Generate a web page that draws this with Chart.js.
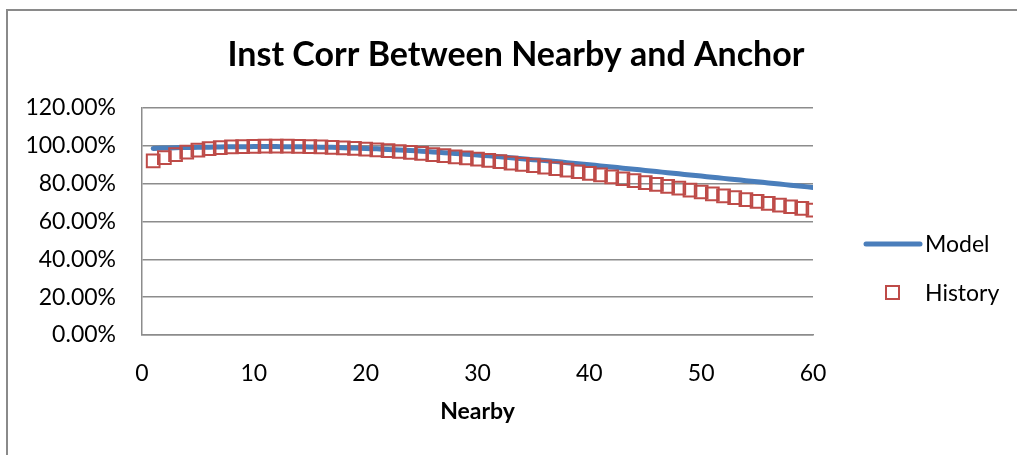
<!DOCTYPE html>
<html>
<head>
<meta charset="utf-8">
<script src="https://cdn.jsdelivr.net/npm/chart.js@4/dist/chart.umd.min.js"></script>
<style>
  html, body { margin: 0; padding: 0; background: #fff; overflow: hidden; }
  #wrap { position: relative; width: 1017px; height: 455px; }
  #frame { position: absolute; left: 6px; top: 9px; width: 1200px; height: 600px; border: 2px solid #8a8a8a; box-sizing: border-box; }
  canvas { position: absolute; left: 0; top: 0; }
</style>
</head>
<body>
<div id="wrap">
  <div id="frame"></div>
  <canvas id="corrChart" width="1017" height="455"></canvas>
</div>
<script>
// x values: nearby 1..60
const nearby = [1,2,3,4,5,6,7,8,9,10,11,12,13,14,15,16,17,18,19,20,
  21,22,23,24,25,26,27,28,29,30,31,32,33,34,35,36,37,38,39,40,
  41,42,43,44,45,46,47,48,49,50,51,52,53,54,55,56,57,58,59,60];

// model curve (%)
const modelVals = [98.6,98.8,99.0,99.1,99.2,99.3,99.4,99.5,99.5,99.6,
  99.6,99.6,99.5,99.5,99.4,99.3,99.2,99.0,98.8,98.6,
  98.4,98.1,97.8,97.5,97.2,96.8,96.4,96.0,95.6,95.1,
  94.7,94.2,93.7,93.2,92.7,92.2,91.7,91.1,90.5,90.0,
  89.4,88.8,88.2,87.6,87.0,86.4,85.8,85.2,84.6,84.0,
  83.4,82.8,82.2,81.6,81.0,80.4,79.8,79.2,78.6,78.0];

// history observations (%)
const historyVals = [92.0,93.8,95.4,96.7,97.7,98.5,99.0,99.4,99.6,99.7,
  99.8,99.8,99.8,99.7,99.6,99.4,99.2,98.9,98.6,98.3,
  97.9,97.5,97.0,96.5,96.0,95.4,94.8,94.2,93.6,93.0,
  92.3,91.6,90.9,90.2,89.5,88.7,87.9,87.1,86.3,85.5,
  84.6,83.6,82.6,81.6,80.6,79.6,78.6,77.6,76.6,75.6,
  74.6,73.6,72.6,71.6,70.6,69.6,68.7,67.8,66.9,66.0];

const xTicks = [0, 10, 20, 30, 40, 50, 60];
const yTicks = [0, 20, 40, 60, 80, 100, 120];

const BLUE = '#4A7EBB';
const RED = '#BE4B48';
const GRID = '#8c8c8c';
const FONT = 'Lato, "Open Sans", sans-serif';

// title and Excel style legend drawn on the canvas
const chartText = {
  id: 'chartText',
  afterDraw(chart) {
    const ctx = chart.ctx;
    ctx.save();
    ctx.fillStyle = '#000';
    ctx.textAlign = 'center';
    ctx.textBaseline = 'middle';
    ctx.font = 'bold 34px ' + FONT;
    ctx.fillText('Inst Corr Between Nearby and Anchor', 516, 55);

    ctx.strokeStyle = BLUE;
    ctx.lineWidth = 5;
    ctx.lineCap = 'round';
    ctx.beginPath();
    ctx.moveTo(866, 244);
    ctx.lineTo(920, 244);
    ctx.stroke();
    ctx.strokeStyle = RED;
    ctx.lineWidth = 2;
    ctx.strokeRect(886, 286, 13, 13);
    ctx.textAlign = 'left';
    ctx.font = '23px ' + FONT;
    ctx.fillText('Model', 925, 245);
    ctx.fillText('History', 925, 294);
    ctx.restore();
  }
};

new Chart(document.getElementById('corrChart'), {
  type: 'line',
  data: {
    datasets: [
      {label: 'Model', data: nearby.map((x, i) => ({x, y: modelVals[i]})), borderColor: BLUE, borderWidth: 5,
        borderCapStyle: 'round', pointRadius: 0, tension: 0.3, fill: false, order: 2},
      {label: 'History', data: nearby.map((x, i) => ({x, y: historyVals[i]})), showLine: false, pointStyle: 'rect',
        pointRadius: 9, pointBorderWidth: 2, pointBorderColor: RED, pointBackgroundColor: 'rgba(0,0,0,0)', order: 1}
    ]
  },
  options: {
    responsive: false,
    animation: false,
    layout: { padding: { left: 16, right: 204, top: 108, bottom: 0 } },
    plugins: {
      legend: { display: false },
      tooltip: { enabled: false },
      title: { display: false }
    },
    scales: {
      x: {
        type: 'linear', min: 0, max: 60,
        afterBuildTicks: s => { s.ticks = xTicks.map(v => ({value: v})); },
        afterFit: s => { s.height = 120; },
        grid: { display: false, drawTicks: false },
        border: { display: true, color: GRID, width: 1.5 },
        ticks: { color: '#000', padding: 25, font: { family: FONT, size: 23 } },
        title: { display: true, text: 'Nearby', color: '#000', padding: { bottom: 30 },
          font: { family: FONT, size: 23, weight: 'bold', lineHeight: 1.2 } }
      },
      y: {
        min: 0, max: 120,
        afterBuildTicks: s => { s.ticks = yTicks.map(v => ({value: v})); },
        afterFit: s => { s.width = 126; },
        grid: { color: GRID, lineWidth: 1.5, drawTicks: false },
        border: { display: true, color: GRID, width: 1.5 },
        ticks: { color: '#000', padding: 26, font: { family: FONT, size: 23 },
          callback: v => v.toFixed(2) + '%' }
      }
    }
  },
  plugins: [chartText]
});
</script>
</body>
</html>
